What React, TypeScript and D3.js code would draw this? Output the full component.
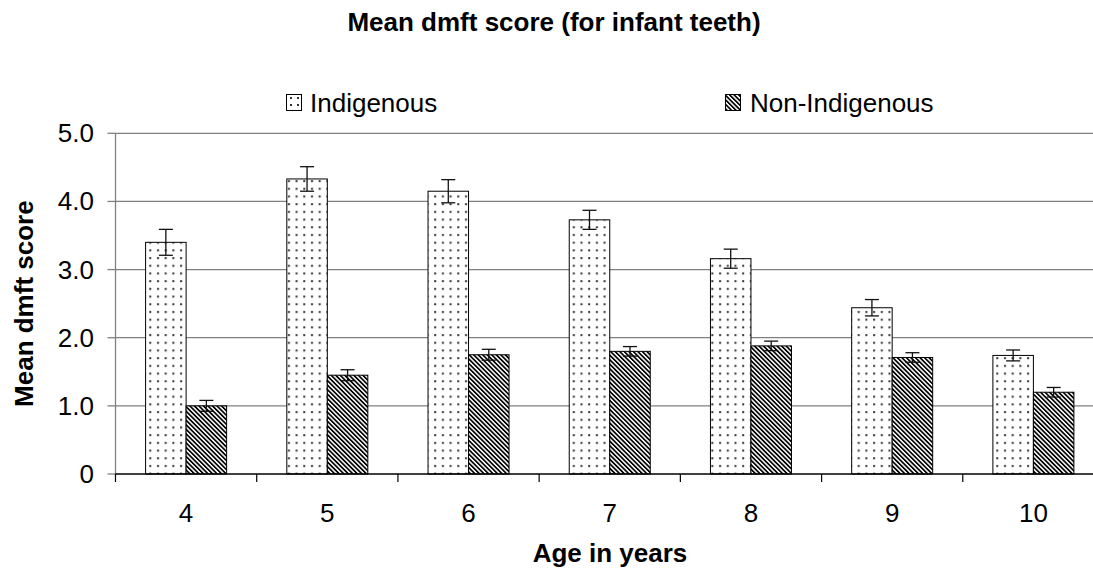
import React from "react";
import * as d3 from "d3";

const ages = ["4", "5", "6", "7", "8", "9", "10"];
const seriesNames = ["Indigenous", "Non-Indigenous"];
const indigenous = [3.4, 4.33, 4.15, 3.73, 3.16, 2.44, 1.74];
const indigenousErr = [0.19, 0.18, 0.17, 0.14, 0.14, 0.12, 0.08];
const nonIndigenous = [1.0, 1.45, 1.75, 1.8, 1.88, 1.71, 1.2];
const nonIndigenousErr = [0.08, 0.08, 0.08, 0.07, 0.07, 0.07, 0.07];
const yTicks = [0, 1, 2, 3, 4, 5];
const yTickLabels = ["0", "1.0", "2.0", "3.0", "4.0", "5.0"];

const W = 1093;
const H = 569;
const left = 115.5;
const right = 1104;
const top = 133.3;
const bottom = 474;
const FONT = "'Liberation Sans', Arial, sans-serif";

export default function App() {
  const x0 = d3.scaleBand<string>().domain(ages).range([left, right]).padding(0);
  const x1 = d3
    .scaleBand<string>()
    .domain(seriesNames)
    .range([0, x0.bandwidth()])
    .paddingInner(0)
    .paddingOuter(0.743);
  const y = d3.scaleLinear().domain([0, 5]).range([bottom, top]);

  const data = seriesNames.map((s, si) => ({
    name: s,
    values: si === 0 ? indigenous : nonIndigenous,
    errs: si === 0 ? indigenousErr : nonIndigenousErr,
    fill: si === 0 ? "url(#dots)" : "url(#stripes)",
  }));

  const bw = x1.bandwidth();

  return (
    <svg
      width={W}
      height={H}
      style={{ position: "absolute", left: 0, top: 0, background: "#fff" }}
      fontFamily={FONT}
    >
      <defs>
        <pattern id="dots" width={7.7} height={7.7} patternUnits="userSpaceOnUse">
          <rect width={7.7} height={7.7} fill="#fff" />
          <rect x={3} y={3} width={2} height={2} fill="#333" />
        </pattern>
        <pattern
          id="stripes"
          width={3.2}
          height={10}
          patternUnits="userSpaceOnUse"
          patternTransform="rotate(-45)"
        >
          <rect width={3.2} height={10} fill="#fff" />
          <rect width={1.7} height={10} fill="#000" />
        </pattern>
        <pattern id="dotsLeg" width={7} height={7} patternUnits="userSpaceOnUse" x={286} y={94}>
          <rect width={7} height={7} fill="#fff" />
          <rect x={4} y={3} width={2} height={2} fill="#333" />
        </pattern>
      </defs>
      <rect width={W} height={H} fill="#fff" />

      {/* title */}
      <text x={554} y={31} textAnchor="middle" fontSize={26} fontWeight="bold" fill="#000">
        Mean dmft score (for infant teeth)
      </text>

      {/* legend */}
      <rect x={286.5} y={94.5} width={15} height={16} fill="url(#dotsLeg)" stroke="#000" strokeWidth={1} />
      <text x={310} y={112} fontSize={26} fill="#000">
        {seriesNames[0]}
      </text>
      <rect x={725.5} y={94.5} width={15} height={16} fill="url(#stripes)" stroke="#000" strokeWidth={1} />
      <text x={750} y={112} fontSize={26} fill="#000">
        {seriesNames[1]}
      </text>

      {/* gridlines */}
      {yTicks.slice(1).map((t) => (
        <line key={t} x1={left} x2={right} y1={y(t)} y2={y(t)} stroke="#808080" strokeWidth={1.3} />
      ))}

      {/* bars */}
      {data.map((s) =>
        ages.map((a, i) => (
          <rect
            key={s.name + a}
            x={(x0(a) as number) + (x1(s.name) as number)}
            y={y(s.values[i])}
            width={bw}
            height={y(0) - y(s.values[i])}
            fill={s.fill}
            stroke="#000"
            strokeWidth={1}
          />
        ))
      )}

      {/* error bars */}
      {data.map((s) =>
        ages.map((a, i) => {
          const cx = (x0(a) as number) + (x1(s.name) as number) + bw / 2;
          const yt = y(s.values[i] + s.errs[i]);
          const yb = y(s.values[i] - s.errs[i]);
          return (
            <g key={"e" + s.name + a} stroke="#111" strokeWidth={1.3}>
              <line x1={cx} x2={cx} y1={yt} y2={yb} />
              <line x1={cx - 7} x2={cx + 7} y1={yt} y2={yt} />
              <line x1={cx - 7} x2={cx + 7} y1={yb} y2={yb} />
            </g>
          );
        })
      )}

      {/* y axis */}
      <line x1={left} x2={left} y1={top} y2={bottom + 1} stroke="#808080" strokeWidth={1.3} />
      {yTicks.map((t, i) => (
        <g key={"yt" + t}>
          <line x1={left - 8} x2={left} y1={y(t)} y2={y(t)} stroke="#808080" strokeWidth={1.3} />
          <text x={94} y={y(t) + 9} textAnchor="end" fontSize={26} fill="#000">
            {yTickLabels[i]}
          </text>
        </g>
      ))}

      {/* x axis */}
      <line x1={left} x2={right} y1={bottom} y2={bottom} stroke="#000" strokeWidth={1.3} />
      {ages.map((a) => (
        <g key={"xt" + a}>
          <line
            x1={(x0(a) as number)}
            x2={(x0(a) as number)}
            y1={bottom}
            y2={bottom + 8}
            stroke="#000"
            strokeWidth={1.2}
          />
          <text
            x={(x0(a) as number) + x0.bandwidth() / 2}
            y={522}
            textAnchor="middle"
            fontSize={26}
            fill="#000"
          >
            {a}
          </text>
        </g>
      ))}

      {/* axis titles */}
      <text x={610} y={562} textAnchor="middle" fontSize={26} fontWeight="bold" fill="#000">
        Age in years
      </text>
      <text
        transform={`translate(33, ${(top + bottom) / 2}) rotate(-90)`}
        textAnchor="middle"
        fontSize={26}
        fontWeight="bold"
        fill="#000"
      >
        Mean dmft score
      </text>
    </svg>
  );
}
